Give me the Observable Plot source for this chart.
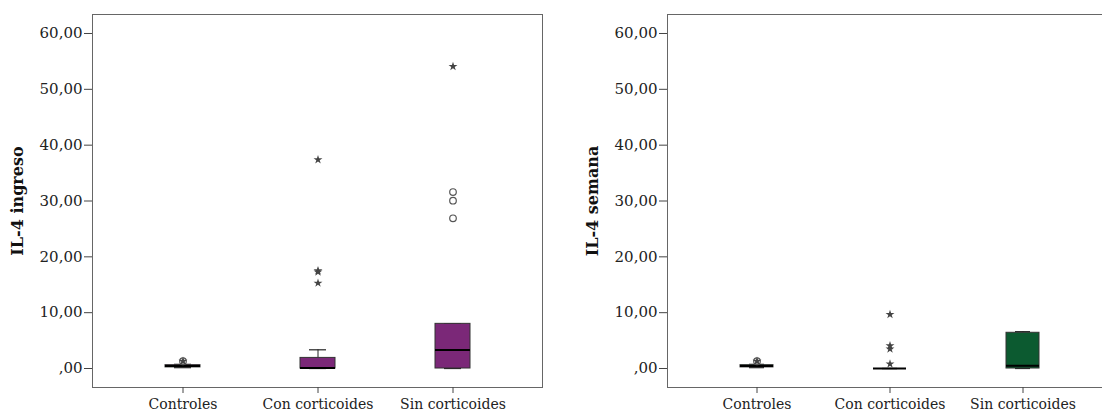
<!DOCTYPE html>
<html>
<head>
<meta charset="utf-8">
<script src="https://cdn.jsdelivr.net/npm/d3@7"></script>
<script src="https://cdn.jsdelivr.net/npm/@observablehq/plot@0.6"></script>
<style>
  html, body { margin: 0; padding: 0; background: #fff; overflow: hidden; }
  #wrap { position: relative; width: 1102px; height: 412px; overflow: hidden; }
  #left, #right { position: absolute; top: 0; width: 560px; height: 412px; }
  #left { left: 0; }
  #right { left: 560px; }
  #left svg, #right svg { max-width: none !important; }
</style>
</head>
<body>
<div id="wrap"><div id="left"></div><div id="right"></div></div>
<script>
// ---- Data ----
const categories = ["Controles", "Con corticoides", "Sin corticoides"];
const yTicks = [0, 10, 20, 30, 40, 50, 60];

// Panel 1: IL-4 ingreso
const ingresoLow    = [0.15, 0.0, 0.0];
const ingresoQ1     = [0.2, 0.0, 0.0];
const ingresoMedian = [0.45, 0.1, 3.3];
const ingresoQ3     = [0.6, 1.9, 8.0];
const ingresoHigh   = [0.75, 3.35, 8.0];
const ingresoCircleCat = ["Controles", "Sin corticoides", "Sin corticoides", "Sin corticoides"];
const ingresoCircleVal = [1.3, 31.6, 30.05, 26.9];
const ingresoStarCat = ["Controles", "Con corticoides", "Con corticoides", "Con corticoides", "Con corticoides", "Sin corticoides"];
const ingresoStarVal = [1.3, 37.4, 17.5, 17.3, 15.3, 54.1];

// Panel 2: IL-4 semana
const semanaLow    = [0.15, 0.0, 0.0];
const semanaQ1     = [0.2, 0.0, 0.0];
const semanaMedian = [0.45, 0.0, 0.5];
const semanaQ3     = [0.6, 0.0, 6.4];
const semanaHigh   = [0.75, 0.0, 6.6];
const semanaCircleCat = ["Controles"];
const semanaCircleVal = [1.3];
const semanaStarCat = ["Controles", "Con corticoides", "Con corticoides", "Con corticoides", "Con corticoides"];
const semanaStarVal = [1.3, 9.7, 4.1, 3.5, 0.8];

const fmt = d => d === 0 ? ",00" : d.toFixed(2).replace(".", ",");

function panel({label, low, q1, med, q3, high, cCat, cVal, sCat, sVal, fill, marginLeft, marginRight, width, range}) {
  const boxes = categories.map((c, i) => ({c, low: low[i], q1: q1[i], med: med[i], q3: q3[i], high: high[i]}));
  const circles = cCat.map((c, i) => ({c, v: cVal[i]}));
  const stars = sCat.map((c, i) => ({c, v: sVal[i]}));
  return Plot.plot({
    width, height: 412,
    marginTop: 14, marginBottom: 25, marginLeft, marginRight,
    style: {fontFamily: "DejaVu Serif", fontSize: "14px", color: "#222", background: "#fff"},
    x: {type: "band", domain: categories, range, padding: 0, label: null},
    y: {domain: [-3.4, 63.4], label: null},
    marks: [
      Plot.frame({stroke: "#666", strokeWidth: 1}),
      Plot.axisY({ticks: yTicks, tickFormat: fmt, tickSize: 8, tickPadding: 2, fontSize: 15, stroke: "#444", label: null}),
      Plot.axisX({tickSize: 6, tickPadding: 6, fontSize: 14, stroke: "#444", label: null}),
      Plot.text([label], {frameAnchor: "left", textAnchor: "middle", dx: -75, rotate: -90, fontWeight: "bold", fontSize: 16, fill: "#111"}),
      // whiskers
      Plot.ruleX(boxes, {x: "c", y1: "q3", y2: "high", stroke: "#222"}),
      Plot.ruleX(boxes, {x: "c", y1: "low", y2: "q1", stroke: "#222"}),
      Plot.tickY(boxes, {x: "c", y: "high", stroke: "#222", strokeWidth: 1.2, insetLeft: 59, insetRight: 59}),
      Plot.tickY(boxes, {x: "c", y: "low", stroke: "#222", strokeWidth: 1.2, insetLeft: 59, insetRight: 59}),
      // box
      Plot.barY(boxes, {x: "c", y1: "q1", y2: "q3", fill, stroke: "#333", strokeWidth: 1, insetLeft: 50, insetRight: 50, insetTop: 0, insetBottom: 0}),
      // median
      Plot.tickY(boxes, {x: "c", y: "med", stroke: "#000", strokeWidth: 2, insetLeft: 50, insetRight: 50}),
      // outliers
      Plot.dot(circles, {x: "c", y: "v", r: 3.3, stroke: "#555", strokeWidth: 1.2, fill: "none"}),
      Plot.dot(stars, {x: "c", y: "v", symbol: "star", r: 2.8, fill: "#444", stroke: "none"})
    ]
  });
}

document.getElementById("left").appendChild(panel({
  label: "IL-4 ingreso",
  low: ingresoLow, q1: ingresoQ1, med: ingresoMedian, q3: ingresoQ3, high: ingresoHigh,
  cCat: ingresoCircleCat, cVal: ingresoCircleVal, sCat: ingresoStarCat, sVal: ingresoStarVal,
  fill: "#7b2878", marginLeft: 92, marginRight: 18, width: 560, range: [114.5, 519.5]
}));

document.getElementById("right").appendChild(panel({
  label: "IL-4 semana",
  low: semanaLow, q1: semanaQ1, med: semanaMedian, q3: semanaQ3, high: semanaHigh,
  cCat: semanaCircleCat, cVal: semanaCircleVal, sCat: semanaStarCat, sVal: semanaStarVal,
  fill: "#0c5a30", marginLeft: 107, marginRight: 9, width: 560, range: [129, 529]
}));
</script>
</body>
</html>
